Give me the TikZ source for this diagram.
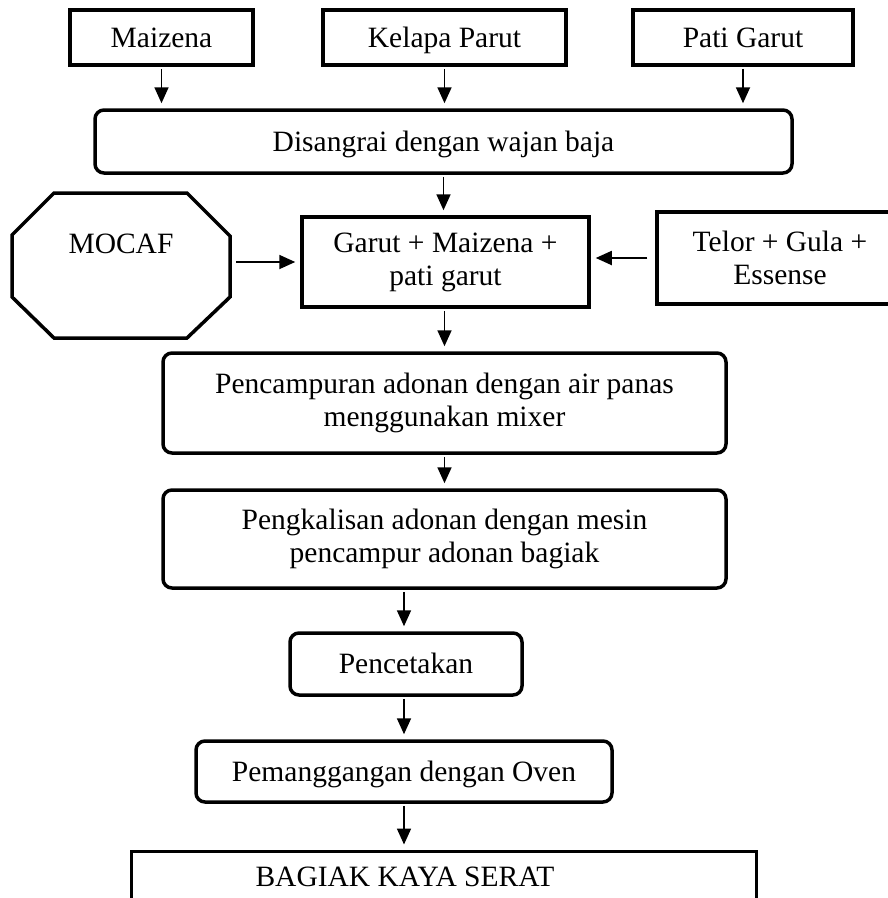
\documentclass[tikz,border=0pt]{standalone}
\usepackage{fontspec}
\setmainfont{Liberation Serif}
\usetikzlibrary{arrows.meta}
\begin{document}
\begin{tikzpicture}[x=1pt,y=-1pt,
  every node/.style={font=\fontsize{29.5}{33}\selectfont, align=center, inner sep=0pt},
  one/.style={text height=19.5pt, text depth=0pt},
  sqbox/.style={draw, line width=3.5pt},
  rbox/.style={draw, line width=3.5pt, rounded corners=9pt},
  octa/.style={draw, line width=3.5pt, line join=miter},
  flow/.style={-{Triangle[width=14pt,length=16pt]}, line width=1.8pt, shorten >=5pt, shorten <=2pt}]
\clip (0,0) rectangle (888,898);
\fill[white] (0,0) rectangle (888,898);
% top inputs
\node[sqbox, one, minimum width=183pt, minimum height=55pt] (maizena) at (161.5,37.5) {Maizena};
\node[sqbox, one, minimum width=243pt, minimum height=55pt] (kelapa) at (444.5,37.5) {Kelapa Parut};
\node[sqbox, one, minimum width=220pt, minimum height=55pt] (pati) at (743,37.5) {Pati Garut};
% roasting
\node[rbox, one, minimum width=697pt, minimum height=63pt] (disangrai) at (443.5,141.5) {Disangrai dengan wajan baja};
% mixing inputs
\node[sqbox, minimum width=287pt, minimum height=90pt] (garut) at (445.5,262) {Garut + Maizena +\\pati garut};
\node[sqbox, minimum width=246pt, minimum height=92pt] (telor) at (780,258) {Telor + Gula +\\Essense};
\draw[octa] (12,235) -- (54,193) -- (187,193) -- (230,236) -- (230,297) -- (187,338) -- (54,338) -- (12,297) -- cycle;
\node[one] (mocaf) at (121,244) {MOCAF};
\coordinate (mocafE) at (236,262);
% process steps
\node[rbox, minimum width=563pt, minimum height=100pt] (campur) at (444.5,403) {Pencampuran adonan dengan air panas\\menggunakan mixer};
\node[rbox, minimum width=563pt, minimum height=98pt] (kalis) at (444.5,539) {Pengkalisan adonan dengan mesin\\pencampur adonan bagiak};
\node[rbox, one, minimum width=232pt, minimum height=62pt] (cetak) at (406,664) {Pencetakan};
\node[rbox, one, minimum width=416pt, minimum height=61pt] (oven) at (404,771.5) {Pemanggangan dengan Oven};
\node[draw, line width=3pt, minimum width=625pt, minimum height=100pt] (hasil) at (443.5,901) {};
\node[one] (hasilt) at (405,877) {BAGIAK KAYA SERAT};
% connectors
\draw[flow] (maizena.south) -- (maizena.south |- disangrai.north);
\draw[flow] (kelapa.south) -- (kelapa.south |- disangrai.north);
\draw[flow] (pati.south) -- (pati.south |- disangrai.north);
\draw[flow] (disangrai.south) -- (disangrai.south |- garut.north);
\draw[flow, shorten <=0pt] (mocafE) -- (garut.west);
\draw[flow, shorten <=8pt] (telor.west) -- (telor.west -| garut.east);
\draw[flow] (campur.north |- garut.south) -- (campur.north);
\draw[flow] (campur.south) -- (kalis.north);
\draw[flow] (oven.north |- kalis.south) -- (oven.north |- cetak.north);
\draw[flow] (oven.north |- cetak.south) -- (oven.north);
\draw[flow] (oven.south) -- (oven.south |- hasil.north);
\end{tikzpicture}
\end{document}
